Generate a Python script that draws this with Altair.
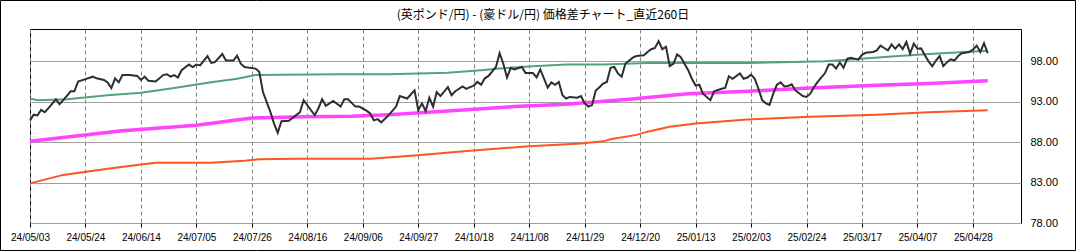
import altair as alt
import pandas as pd

title_text = "(英ポンド/円) - (豪ドル/円) 価格差チャート_直近260日"

tick_labels = ["24/05/03", "24/05/24", "24/06/14", "24/07/05", "24/07/26", "24/08/16",
               "24/09/06", "24/09/27", "24/10/18", "24/11/08", "24/11/29", "24/12/20",
               "25/01/13", "25/02/03", "25/02/24", "25/03/17", "25/04/07", "25/04/28"]
tick_pos = [i * 15 for i in range(len(tick_labels))]

# price difference (index = trading day)
diff_idx = [0, 1, 2, 3, 4, 5, 7, 8, 9, 11, 12, 13, 15, 17, 18, 20, 21, 22, 23, 24, 25, 27, 29, 30,
            31, 32, 34, 36, 37, 38, 39, 40, 41, 43, 44, 45, 46, 48, 49, 50, 52, 53, 55, 56, 57, 58,
            61, 62, 63, 65, 66, 67, 68, 70, 72, 73, 74, 76, 77, 78, 79, 80, 82, 84, 85, 86, 88, 89,
            91, 92, 93, 94, 95, 96, 97, 99, 100, 102, 104, 105, 106, 107, 108, 109, 110, 111, 113,
            114, 115, 117, 118, 119, 120, 121, 122, 123, 124, 126, 127, 128, 129, 130, 131, 133,
            134, 136, 137, 138, 140, 141, 142, 143, 144, 145, 146, 148, 149, 150, 151, 152, 153,
            154, 155, 156, 157, 158, 159, 160, 161, 163, 164, 166, 167, 168, 169, 170, 171, 172,
            173, 174, 175, 176, 178, 179, 180, 181, 182, 184, 185, 187, 188, 189, 190, 192, 193,
            194, 195, 196, 197, 198, 199, 200, 201, 202, 203, 204, 205, 206, 207, 209, 210, 211,
            212, 213, 215, 216, 217, 218, 219, 220, 221, 222, 224, 225, 226, 228, 229, 230, 231,
            232, 233, 234, 235, 236, 237, 238, 239, 240, 241, 242, 243, 244, 245, 246, 247, 248,
            249, 250, 251, 252, 254, 255, 256, 257, 258, 259]
diff_val = [90.7, 91.4, 91.3, 92.0, 91.7, 92.2, 93.3, 92.7, 93.2, 94.3, 94.3, 95.5, 95.8, 96.1, 95.9,
            95.7, 95.4, 94.7, 95.9, 95.4, 96.3, 96.3, 96.2, 95.7, 96.1, 95.6, 95.5, 96.3, 96.4, 96.1,
            96.3, 96.0, 96.9, 97.6, 97.3, 97.6, 97.5, 98.65, 97.8, 97.9, 98.9, 98.1, 98.1, 98.7, 97.7,
            97.3, 97.1, 96.7, 94.2, 91.75, 90.3, 89.15, 90.6, 90.65, 91.35, 91.7, 93.2, 91.95, 91.35,
            92.2, 93.3, 92.5, 93.1, 92.4, 93.3, 93.3, 92.4, 92.4, 91.9, 91.55, 90.7, 90.85, 90.45,
            90.9, 91.35, 92.4, 93.7, 93.4, 94.4, 91.95, 92.8, 91.85, 93.5, 92.4, 94.2, 93.7, 94.8,
            93.8, 94.3, 94.9, 94.6, 94.8, 95.0, 95.45, 95.1, 95.9, 96.2, 97.3, 99.0, 97.7, 96.0, 97.2,
            97.0, 97.3, 96.55, 96.55, 96.0, 97.0, 94.75, 95.4, 95.1, 95.45, 93.8, 93.4, 93.6, 93.5,
            93.7, 92.8, 92.4, 92.6, 94.4, 94.8, 95.25, 95.45, 97.2, 97.3, 96.5, 96.1, 97.7, 98.45,
            98.65, 98.75, 99.15, 99.5, 99.65, 100.5, 99.5, 99.8, 97.4, 97.7, 98.85, 98.5, 96.9, 95.85,
            95.0, 95.1, 94.0, 93.2, 94.3, 94.6, 94.7, 96.15, 95.85, 96.5, 95.85, 96.0, 96.35, 95.85,
            94.6, 93.2, 92.8, 92.6, 94.0, 95.1, 95.4, 94.9, 94.95, 95.15, 94.4, 93.7, 93.6, 94.0, 94.8,
            95.45, 96.55, 97.6, 97.6, 97.1, 97.85, 97.2, 98.3, 98.45, 98.2, 98.8, 99.05, 99.15, 99.35,
            99.95, 99.65, 99.35, 100.1, 99.55, 100.1, 99.5, 100.4, 98.95, 100.2, 99.55, 99.6, 98.75,
            98.0, 97.4, 98.1, 98.65, 97.4, 97.9, 98.25, 98.1, 98.65, 99.0, 99.15, 99.45, 99.95, 99.15,
            100.25, 99.0]

green_idx = [0, 2, 10, 21, 30, 39, 49, 56, 61, 83, 97, 113, 122, 127, 136, 145, 155, 167, 194,
             215, 224, 233, 243, 259]
green_val = [93.4, 93.2, 93.3, 93.8, 94.1, 94.7, 95.4, 95.85, 96.3, 96.4, 96.4, 96.6, 96.9, 97.1,
             97.4, 97.6, 97.6, 97.8, 97.8, 98.0, 98.3, 98.6, 98.9, 99.3]

magenta_idx = [0, 25, 45, 60, 74, 87, 97, 113, 131, 145, 162, 178, 194, 211, 229, 243, 259]
magenta_val = [88.1, 89.4, 90.1, 91.0, 91.15, 91.2, 91.4, 91.85, 92.4, 92.7, 93.3, 94.0, 94.3,
               94.7, 95.05, 95.25, 95.6]

orange_idx = [0, 9, 21, 30, 34, 49, 58, 62, 72, 89, 92, 104, 119, 135, 149, 155, 157, 164, 167,
              173, 180, 194, 211, 229, 243, 259]
orange_val = [82.9, 83.95, 84.7, 85.25, 85.45, 85.45, 85.7, 85.9, 85.95, 85.95, 85.95, 86.35,
              86.95, 87.5, 87.85, 88.1, 88.35, 88.9, 89.3, 89.9, 90.3, 90.8, 91.15, 91.4, 91.7,
              91.95]

label_font = "Liberation Sans"
label_expr = "[" + ",".join("'" + s + "'" for s in tick_labels) + "][round(datum.value / 15)]"

xscale = alt.Scale(domain=[0, 268], nice=False, zero=False)
yscale = alt.Scale(domain=[78, 102], nice=False, zero=False)

x_axis = alt.Axis(values=tick_pos, labelExpr=label_expr, grid=True, gridColor="#808080",
                  gridDash=[4, 3], gridWidth=1, domain=False, ticks=True, tickSize=4,
                  tickColor="#000000", labelFont=label_font, labelFontSize=10,
                  labelColor="#000000", labelPadding=5, title=None, labelFlush=False,
                  labelOverlap=False)
y_axis = alt.Axis(orient="right", values=[78, 83, 88, 93, 98], format=".2f", grid=True,
                  gridColor="#a0a0a0", gridWidth=1, domain=False, ticks=False,
                  labelFont=label_font, labelFontSize=11, labelColor="#000000",
                  labelPadding=9, title=None)


def line_layer(idx, val, color, width):
    df = pd.DataFrame({"i": idx, "v": val})
    return alt.Chart(df).mark_line(color=color, strokeWidth=width, interpolate="linear").encode(
        x=alt.X("i:Q", scale=xscale, axis=x_axis),
        y=alt.Y("v:Q", scale=yscale, axis=y_axis),
    )


green = line_layer(green_idx, green_val, "#55a277", 2)
magenta = line_layer(magenta_idx, magenta_val, "#ff44ff", 3.5)
orange = line_layer(orange_idx, orange_val, "#ff5520", 2)
black = line_layer(diff_idx, diff_val, "#2e2e2e", 2)

one = pd.DataFrame({"t": [title_text]})
title = alt.Chart(one).mark_text(font="Noto Sans CJK JP", fontSize=12, color="#000000",
                                 align="center", baseline="middle").encode(
    text="t:N", x=alt.value(513), y=alt.value(-14))

frame = alt.Chart(one).mark_rect(fillOpacity=0, stroke="#000000", strokeWidth=1, clip=False).encode(
    x=alt.value(-29.5), x2=alt.value(1045.5), y=alt.value(-28.5), y2=alt.value(221.5))

chart = alt.layer(green, magenta, orange, black, title, frame).properties(
    width=991, height=194,
    autosize=alt.AutoSizeParams(type="none"),
    padding={"left": 30, "top": 29, "right": 57, "bottom": 29},
    background="#ffffff",
).configure_view(stroke="#000000", strokeWidth=1)

chart.save("out.html", embed_options={"renderer": "svg", "actions": False})
